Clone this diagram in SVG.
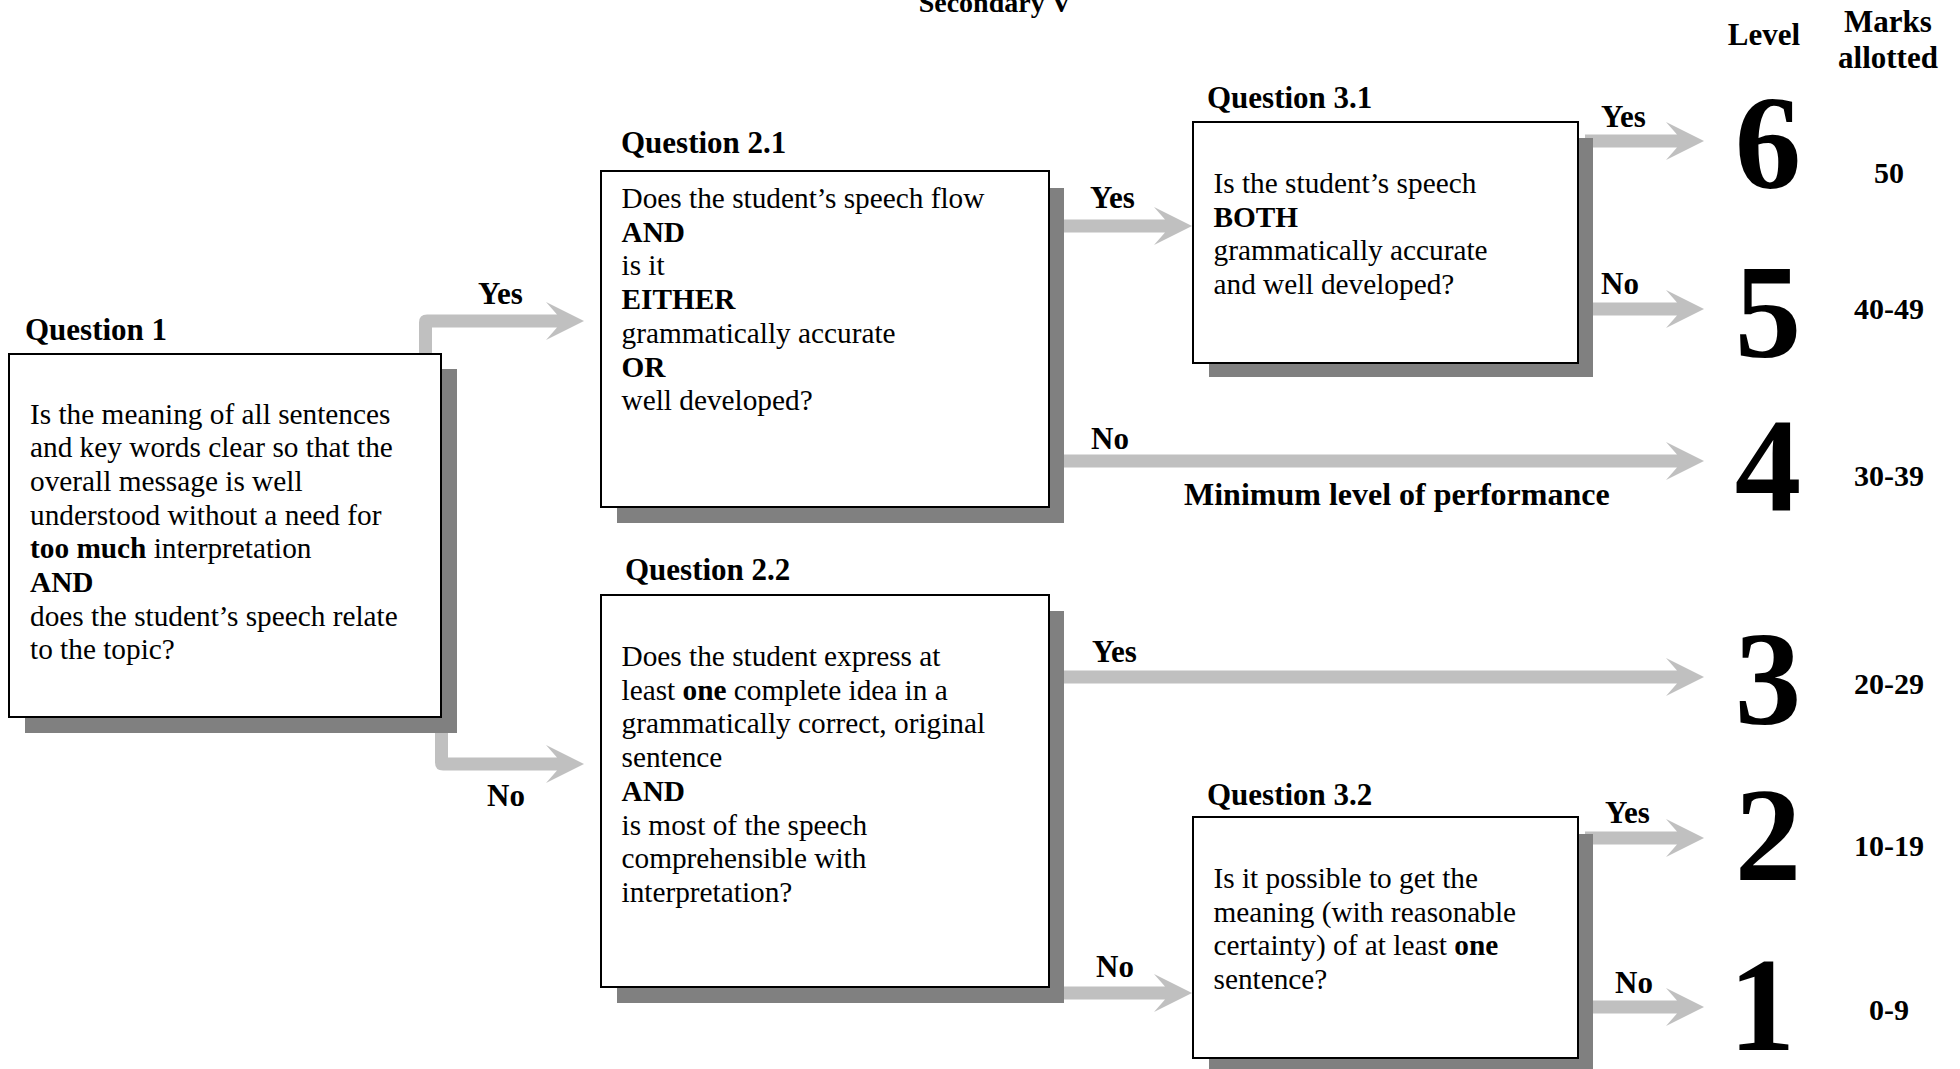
<svg xmlns="http://www.w3.org/2000/svg" width="1960" height="1069" viewBox="0 0 1960 1069">
<style>
.box{fill:#ffffff;stroke:#000000;stroke-width:2}
.shadow{fill:#808080}
.arrow{fill:#c0c0c0}
.t{font-family:"Liberation Serif","Times New Roman",serif;font-size:29.3px;fill:#000}
.b{font-weight:bold}
.h{font-family:"Liberation Serif","Times New Roman",serif;font-size:31px;font-weight:bold;fill:#000}
.lvl{font-family:"Liberation Serif","Times New Roman",serif;font-size:133px;font-weight:bold;fill:#000;text-anchor:middle}
.mk{font-family:"Liberation Serif","Times New Roman",serif;font-size:30px;font-weight:bold;fill:#000;text-anchor:middle}
</style>
<rect width="1960" height="1069" fill="#ffffff"/>
<text class="h" x="995" y="12" text-anchor="middle" style="font-size:28px">Secondary V</text>
<g id="connectors">
<path class="arrow" d="M419 360 V322.5 Q419 314.5 427 314.5 H557 L546 302 L584 321 L546 340 L557 327.5 H432 V360 Z"/>
<path class="arrow" d="M435 725 V762.5 Q435 770.5 443 770.5 H557 L546 783 L584 764 L546 745 L557 757.5 H448 V725 Z"/>
<path class="arrow" d="M1055 219.5 H1165 L1154 207 L1192 226 L1154 245 L1165 232.5 H1055 Z"/>
<path class="arrow" d="M1055 454.5 H1677 L1666 442 L1704 461 L1666 480 L1677 467.5 H1055 Z"/>
<path class="arrow" d="M1585 134.5 H1677 L1666 122 L1704 141 L1666 160 L1677 147.5 H1585 Z"/>
<path class="arrow" d="M1585 302.5 H1677 L1666 290 L1704 309 L1666 328 L1677 315.5 H1585 Z"/>
<path class="arrow" d="M1055 670.5 H1677 L1666 658 L1704 677 L1666 696 L1677 683.5 H1055 Z"/>
<path class="arrow" d="M1055 986.5 H1165 L1154 974 L1192 993 L1154 1012 L1165 999.5 H1055 Z"/>
<path class="arrow" d="M1585 831.5 H1677 L1666 819 L1704 838 L1666 857 L1677 844.5 H1585 Z"/>
<path class="arrow" d="M1585 1000.5 H1677 L1666 988 L1704 1007 L1666 1026 L1677 1013.5 H1585 Z"/>
<text class="h" x="478" y="304">Yes</text>
<text class="h" x="487" y="806">No</text>
<text class="h" x="1090" y="208">Yes</text>
<text class="h" x="1091" y="449">No</text>
<text class="h" x="1184" y="505" style="font-size:32px">Minimum level of performance</text>
<text class="h" x="1601" y="127">Yes</text>
<text class="h" x="1601" y="294">No</text>
<text class="h" x="1092" y="662">Yes</text>
<text class="h" x="1096" y="977">No</text>
<text class="h" x="1605" y="823">Yes</text>
<text class="h" x="1615" y="993">No</text>
</g>
<g id="q1">
<text class="h" x="25" y="340">Question 1</text>
<rect class="shadow" x="25" y="369" width="432" height="364"/>
<rect class="box" x="9" y="354" width="432" height="363"/>
<text class="t" x="30" y="423.5">Is the meaning of all sentences</text>
<text class="t" x="30" y="457.2">and key words clear so that the</text>
<text class="t" x="30" y="490.9">overall message is well</text>
<text class="t" x="30" y="524.6">understood without a need for</text>
<text class="t" x="30" y="558.3"><tspan class="b">too much</tspan> interpretation</text>
<text class="t b" x="30" y="592">AND</text>
<text class="t" x="30" y="625.7">does the student’s speech relate</text>
<text class="t" x="30" y="659.4">to the topic?</text>
</g>
<g id="q21">
<text class="h" x="621" y="153">Question 2.1</text>
<rect class="shadow" x="617" y="188" width="447" height="335"/>
<rect class="box" x="601" y="171" width="448" height="336"/>
<text class="t" x="621.5" y="208">Does the student’s speech flow</text>
<text class="t b" x="621.5" y="241.7">AND</text>
<text class="t" x="621.5" y="275.4">is it</text>
<text class="t b" x="621.5" y="309.1">EITHER</text>
<text class="t" x="621.5" y="342.8">grammatically accurate</text>
<text class="t b" x="621.5" y="376.5">OR</text>
<text class="t" x="621.5" y="410.2">well developed?</text>
</g>
<g id="q31">
<text class="h" x="1207" y="108">Question 3.1</text>
<rect class="shadow" x="1209" y="138" width="384" height="239"/>
<rect class="box" x="1193" y="122" width="385" height="241"/>
<text class="t" x="1213.5" y="193">Is the student’s speech</text>
<text class="t b" x="1213.5" y="226.5">BOTH</text>
<text class="t" x="1213.5" y="260">grammatically accurate</text>
<text class="t" x="1213.5" y="293.5">and well developed?</text>
</g>
<g id="q22">
<text class="h" x="625" y="580">Question 2.2</text>
<rect class="shadow" x="617" y="611" width="447" height="392"/>
<rect class="box" x="601" y="595" width="448" height="392"/>
<text class="t" x="621.5" y="666">Does the student express at</text>
<text class="t" x="621.5" y="699.7">least <tspan class="b">one</tspan> complete idea in a</text>
<text class="t" x="621.5" y="733.4">grammatically correct, original</text>
<text class="t" x="621.5" y="767.1">sentence</text>
<text class="t b" x="621.5" y="800.8">AND</text>
<text class="t" x="621.5" y="834.5">is most of the speech</text>
<text class="t" x="621.5" y="868.2">comprehensible with</text>
<text class="t" x="621.5" y="901.9">interpretation?</text>
</g>
<g id="q32">
<text class="h" x="1207" y="805">Question 3.2</text>
<rect class="shadow" x="1209" y="834" width="384" height="245"/>
<rect class="box" x="1193" y="817" width="385" height="241"/>
<text class="t" x="1213.5" y="888">Is it possible to get the</text>
<text class="t" x="1213.5" y="921.7">meaning (with reasonable</text>
<text class="t" x="1213.5" y="955.4">certainty) of at least <tspan class="b">one</tspan></text>
<text class="t" x="1213.5" y="989.1">sentence?</text>
</g>
<g id="levels">
<text class="h" x="1764" y="45" text-anchor="middle">Level</text>
<text class="h" x="1888" y="32" text-anchor="middle">Marks</text>
<text class="h" x="1888" y="68" text-anchor="middle">allotted</text>
<text class="lvl" x="1768" y="188">6</text>
<text class="lvl" x="1768" y="357">5</text>
<text class="lvl" x="1768" y="510">4</text>
<text class="lvl" x="1768" y="724">3</text>
<text class="lvl" x="1768" y="880">2</text>
<text class="lvl" x="1762" y="1050">1</text>
<text class="mk" x="1889" y="183">50</text>
<text class="mk" x="1889" y="319">40-49</text>
<text class="mk" x="1889" y="486">30-39</text>
<text class="mk" x="1889" y="694">20-29</text>
<text class="mk" x="1889" y="856">10-19</text>
<text class="mk" x="1889" y="1020">0-9</text>
</g>
</svg>
